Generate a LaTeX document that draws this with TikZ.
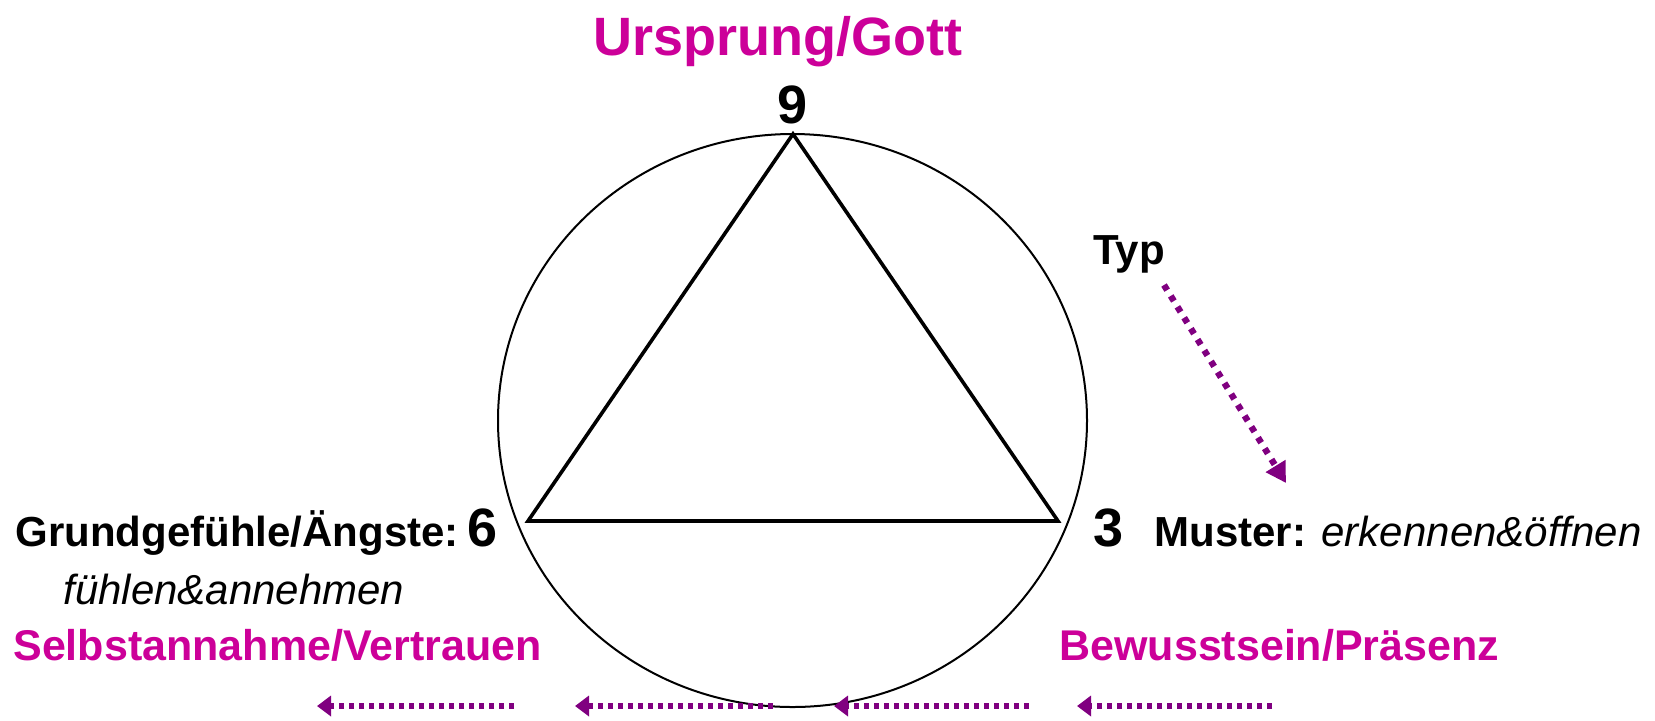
\documentclass[tikz,border=0pt]{standalone}
\usepackage{fontspec}
\setmainfont{Liberation Sans}
\usetikzlibrary{arrows.meta}
\definecolor{mag}{RGB}{204,0,153}
\definecolor{purp}{RGB}{128,0,128}
\tikzset{
  lbl/.style={anchor=base west, inner sep=0pt, font=\bfseries\fontsize{21}{24}\selectfont},
  ital/.style={anchor=base west, inner sep=0pt, font=\itshape\fontsize{21}{24}\selectfont},
  maglbl/.style={anchor=base west, inner sep=0pt, text=mag, font=\bfseries\fontsize{21.5}{24}\selectfont},
  digit/.style={inner sep=0pt, font=\bfseries\fontsize{27}{30}\selectfont},
  dotarrow/.style={draw=purp, line width=3.2pt, dash pattern=on 3pt off 3.4pt, -{Triangle[length=10pt,width=11pt]}},
  flow/.style={draw=purp, line width=3.2pt, dash pattern=on 2.4pt off 2.6pt, -{Triangle[length=7pt,width=10pt]}}
}
\begin{document}
\begin{tikzpicture}[x=0.5pt,y=-0.5pt]
\useasboundingbox (0,0) rectangle (1655,720);
% circle
\draw[line width=1pt] (792.5,420.5) ellipse [x radius=294.5, y radius=286.5];
% triangle
\coordinate (top) at (793,134);
\coordinate (left) at (528,521);
\coordinate (right) at (1058,521);
\draw[line width=1.8pt, line join=miter] (top) -- (left) -- (right) -- cycle;
% texts
\node[maglbl, font=\bfseries\fontsize{27}{30}\selectfont] (origin) at (593,55) {Ursprung/Gott};
\node[digit, anchor=base] (nine) at (793,123) {9};
\node[lbl] (grund) at (15,546) {Grundgef\"uhle/\"Angste:\hspace{0.2em}\fontsize{27}{30}\selectfont 6};
\node[ital] (fuehlen) at (63,604) {f\"uhlen\&annehmen};
\node[maglbl] (selbst) at (13,660) {Selbstannahme/Vertrauen};
\node[digit, anchor=base west] (three) at (1093,546) {3};
\node[lbl] (muster) at (1154,546) {Muster: \normalfont\itshape erkennen\&\"offnen};
\node[maglbl] (bewusst) at (1059,660) {Bewusstsein/Pr\"asenz};
\node[lbl] (typ) at (1093,264) {Typ};
% diagonal dotted arrow
\coordinate (typs) at (1164,285);
\coordinate (type) at (1286,483);
\draw[dotarrow] (typs) -- (type);
% bottom flow arrows
\coordinate (a1s) at (514,706); \coordinate (a1e) at (317,706);
\coordinate (a2s) at (773,706); \coordinate (a2e) at (575,706);
\coordinate (a3s) at (1029,706); \coordinate (a3e) at (834,706);
\coordinate (a4s) at (1272,706); \coordinate (a4e) at (1077,706);
\draw[flow] (a1s) -- (a1e);
\draw[flow] (a2s) -- (a2e);
\draw[flow] (a3s) -- (a3e);
\draw[flow] (a4s) -- (a4e);
\end{tikzpicture}
\end{document}
